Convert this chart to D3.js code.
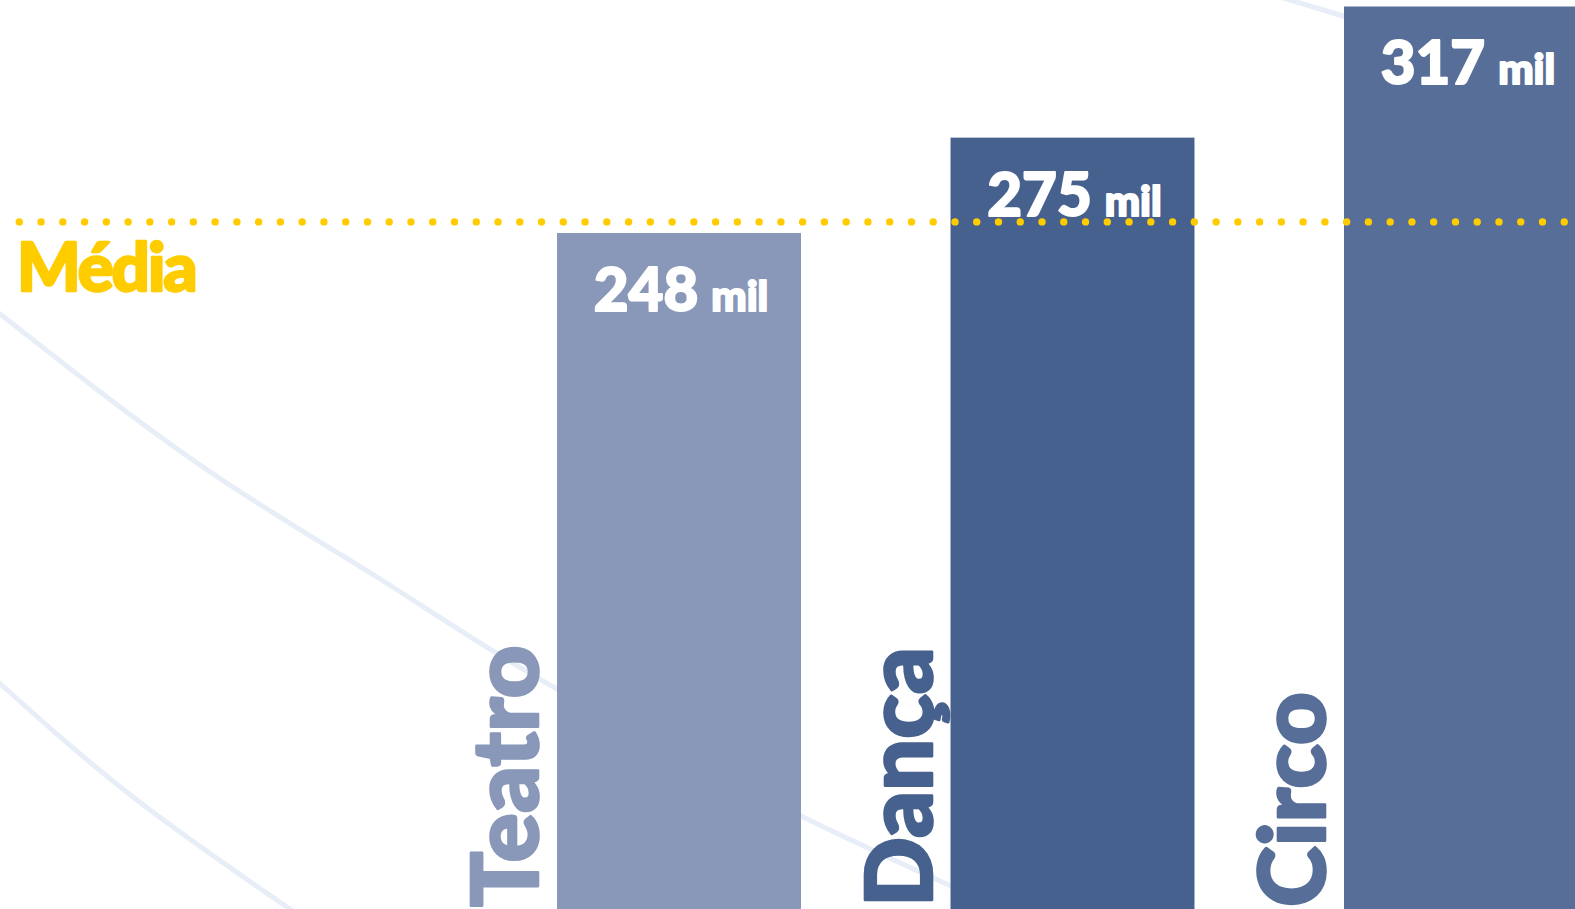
<!DOCTYPE html>
<html>
<head>
<meta charset="utf-8">
<script src="https://cdn.jsdelivr.net/npm/d3@7"></script>
<style>
  html, body { margin: 0; padding: 0; background: #ffffff; overflow: hidden; }
  svg { display: block; }
  text { font-family: "Lato", "Open Sans", "Noto Sans", sans-serif; font-weight: 900;
         paint-order: stroke fill; stroke-linejoin: round; }
</style>
</head>
<body>
<svg id="chart" width="1575" height="909"></svg>
<script>
// ---- data ----
const categories = ["Teatro", "Dança", "Circo"];
const values = [248, 275, 317];            // mil
const valueLabels = ["248", "275", "317"];
const unitLabel = "mil";
const mediaValue = 251;                    // estimated level of the average line
const mediaLabel = "Média";
const barColors = ["#8997b8", "#47618e", "#576e98"];

// decorative background guide curves (pixel geometry, not data)
const guideCurves = [
  [[-5, 310], [200, 465], [380, 579], [557, 689], [803, 817], [960, 890]],
  [[-5, 679], [133, 797], [300, 916]],
  [[1270, -6], [1290, 0], [1360, 21]]
];

// ---- layout ----
const W = 1575, H = 909;
const svg = d3.select("#chart");

const x = d3.scaleBand()
  .domain(categories)
  .range([407.5, 1737.5])
  .paddingInner(0.38)
  .paddingOuter(0.38);

// the infographic compresses larger values: a log scale follows it best
const y = d3.scaleLog()
  .domain([200, 320])
  .range([431.5, -2.2]);

const color = d3.scaleOrdinal().domain(categories).range(barColors);

const data = categories.map((c, i) => ({ cat: c, value: values[i], label: valueLabels[i] }));

// background guide curves
const line = d3.line().curve(d3.curveNatural);
svg.append("g")
  .selectAll("path")
  .data(guideCurves)
  .join("path")
  .attr("d", d => line(d))
  .attr("fill", "none")
  .attr("stroke", "#e8eef7")
  .attr("stroke-width", 5);

// category labels (rotated, bottom aligned, left of each bar)
svg.append("g")
  .selectAll("text")
  .data(data)
  .join("text")
  .attr("transform", d => `translate(${x(d.cat) - 19},${H - 2}) rotate(-90)`)
  .attr("text-anchor", "start")
  .attr("font-size", 92)
  .attr("fill", d => color(d.cat))
  .attr("stroke", d => color(d.cat))
  .attr("stroke-width", 2.6)
  .text(d => d.cat);

// bars
svg.append("g")
  .selectAll("rect")
  .data(data)
  .join("rect")
  .attr("x", d => x(d.cat))
  .attr("y", d => y(d.value))
  .attr("width", x.bandwidth())
  .attr("height", d => H - y(d.value) + 2)
  .attr("fill", d => color(d.cat));

// value labels
const vl = svg.append("g")
  .selectAll("text")
  .data(data)
  .join("text")
  .attr("x", d => x(d.cat) + x.bandwidth() / 2 + 2)
  .attr("y", d => y(d.value) + 78)
  .attr("text-anchor", "middle")
  .attr("fill", "#ffffff")
  .attr("stroke", "#ffffff")
  .attr("stroke-width", 2);
vl.append("tspan").attr("font-size", 60).text(d => d.label);
vl.append("tspan").attr("font-size", 42).attr("dx", 13).text(unitLabel);

// average (média) dotted line
const ym = y(mediaValue);
svg.append("line")
  .attr("x1", 19.3)
  .attr("x2", W + 10)
  .attr("y1", ym)
  .attr("y2", ym)
  .attr("stroke", "#ffcc00")
  .attr("stroke-width", 7.4)
  .attr("stroke-linecap", "round")
  .attr("stroke-dasharray", "0 21.76");

svg.append("text")
  .attr("x", 17)
  .attr("y", ym + 69)
  .attr("font-size", 67)
  .attr("letter-spacing", -2)
  .attr("fill", "#ffcc00")
  .attr("stroke", "#ffcc00")
  .attr("stroke-width", 2.4)
  .text(mediaLabel);
</script>
</body>
</html>
